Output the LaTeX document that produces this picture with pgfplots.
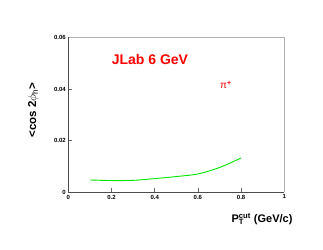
\documentclass[border=0pt]{standalone}
\usepackage{pgfplots}
\pgfplotsset{compat=1.18}
\usepackage{fontspec}
\setmainfont{Liberation Sans}
\definecolor{rootgreen}{RGB}{0,230,0}
\begin{document}
\begin{tikzpicture}[x=1pt,y=1pt]
\path[use as bounding box] (0,0) rectangle (323,249);
\begin{axis}[
  at={(68.3pt,56.7pt)}, anchor=south west,
  scale only axis, width=216pt, height=155pt,
  xmin=0, xmax=1, ymin=0, ymax=0.06,
  scaled y ticks=false, scaled x ticks=false,
  xtick={0,0.2,0.4,0.6,0.8,1},
  ytick={0,0.02,0.04,0.06},
  xticklabels={0,0.2,0.4,0.6,0.8,1},
  yticklabels={0,0.02,0.04,0.06},
  tick align=inside,
  major tick length=4pt,
  xtick pos=bottom, ytick pos=left,
  tick style={black!60, line width=0.5pt},
  axis line style={black!30, line width=0.6pt},
  axis x line*=bottom, axis y line*=left,
  every tick label/.append style={font=\fontsize{6}{7}\selectfont\bfseries},
  xticklabel style={yshift=1pt},
  yticklabel style={xshift=1pt},
  clip=false,
]
\draw[black!30, line width=0.6pt] (axis cs:0,0.06) -- (axis cs:1,0.06) -- (axis cs:1,0);
\draw[black!70, line width=0.6pt] (axis cs:0,0) -- (axis cs:1,0);
\draw[black!70, line width=0.6pt] (axis cs:0,0) -- (axis cs:0,0.06);
\addplot[rootgreen, line width=0.9pt, smooth] coordinates {
(0.1,0.00477) (0.2,0.00455) (0.3,0.00462) (0.4,0.0053) (0.5,0.0061) (0.6,0.0071) (0.7,0.0096) (0.8,0.0133)
};
\node[red, font=\fontsize{14}{16}\selectfont\bfseries] at (axis cs:0.378,0.0515) {JLab 6 GeV};
\node[red, font=\fontsize{10}{12}\selectfont] at (axis cs:0.73,0.0416) {π\textsuperscript{\bfseries+}};
\end{axis}
\node[rotate=90, font=\fontsize{11.5}{13}\selectfont\bfseries] at (33,139) {<cos 2$\phi_{\mathrm{h}}$>};
\node[anchor=east, font=\fontsize{11}{13}\selectfont\bfseries] at (296,30) {P$_{\mathbf{T}}^{\mathbf{cut}}$ (GeV/c)};
\end{tikzpicture}
\end{document}
